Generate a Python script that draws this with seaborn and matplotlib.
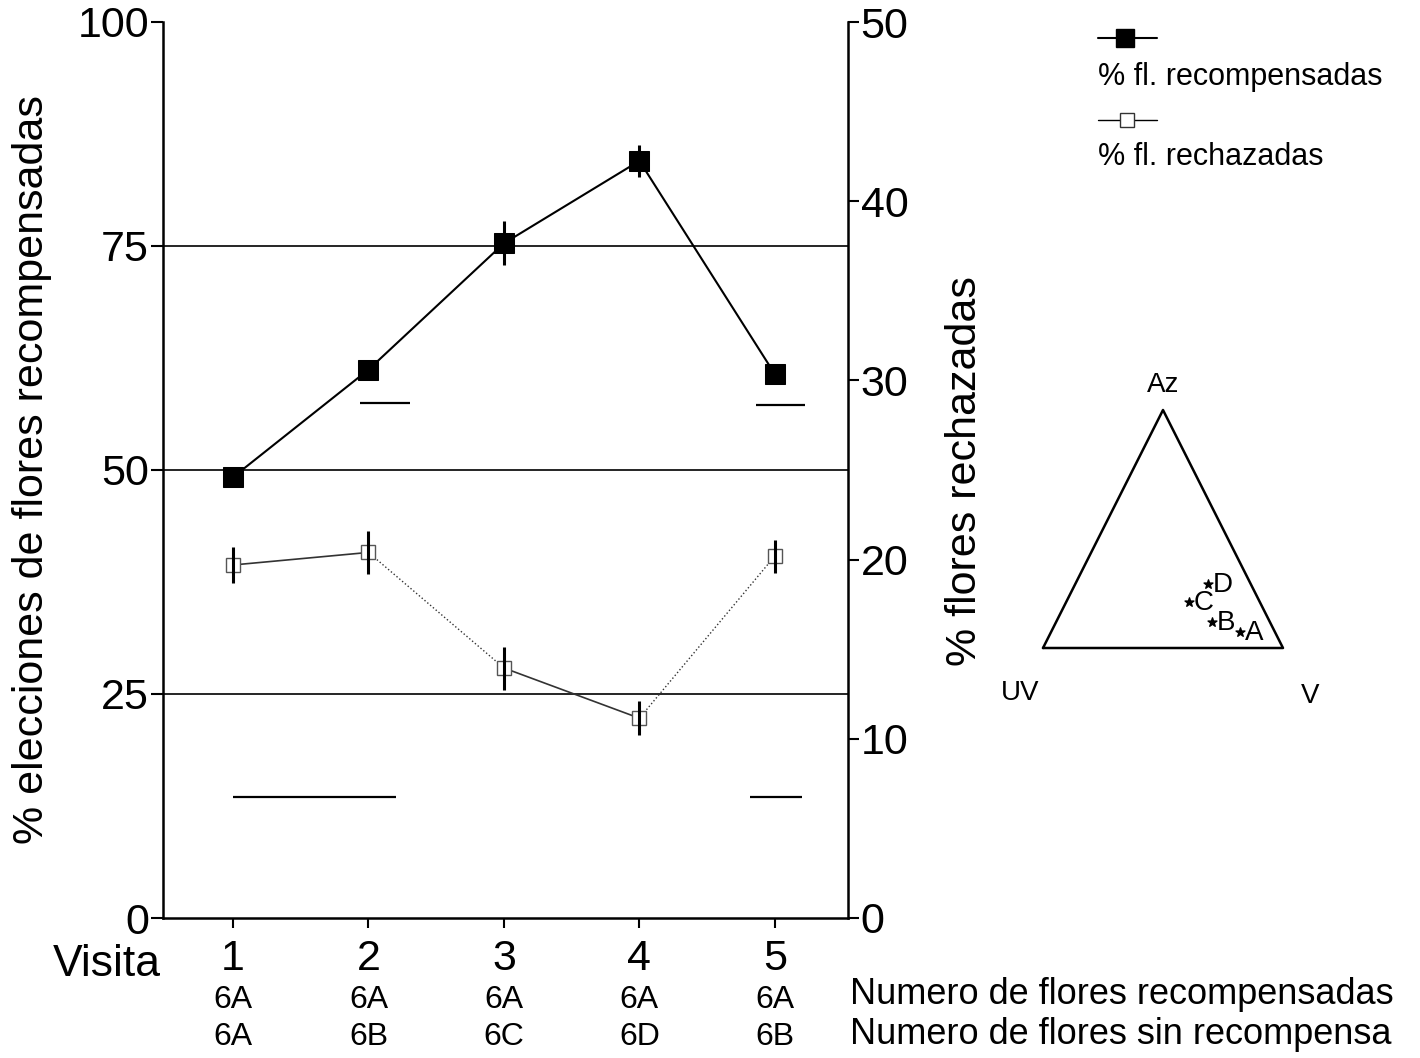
import matplotlib
matplotlib.use("Agg")
import matplotlib.pyplot as plt
import seaborn as sns
import numpy as np
import pandas as pd

# ---------------- data ----------------
visits = [1, 2, 3, 4, 5]
visit_labels = ["1", "2", "3", "4", "5"]
rewarded_pct = [49.2, 61.2, 75.3, 84.5, 60.7]        # left axis
rewarded_err = [0.8, 0.8, 2.45, 1.8, 0.8]
rejected_pct = [19.7, 20.4, 13.95, 11.15, 20.2]      # right axis
rejected_err = [1.0, 1.2, 1.2, 0.95, 0.92]
row_rewarded = ["6A", "6A", "6A", "6A", "6A"]
row_unrewarded = ["6A", "6B", "6C", "6D", "6B"]
ref_levels = [25, 50, 75]
# short horizontal segments (left-axis units): level, x start, x end
seg_level = [57.5, 57.3, 13.5, 13.5]
seg_x0 = [1.94, 4.86, 1.0, 4.82]
seg_x1 = [2.31, 5.22, 2.2, 5.2]
left_ticks = [0, 25, 50, 75, 100]
right_ticks = [0, 10, 20, 30, 40, 50]
# colour triangle points (triangle coords: base 0..1, apex height 1)
tri_names = ["D", "C", "B", "A"]
tri_x = [0.688, 0.608, 0.704, 0.821]
tri_y = [0.269, 0.193, 0.109, 0.067]

df = pd.DataFrame({"visit": visits, "rew": rewarded_pct, "rej": rejected_pct})

sns.set_theme(style="white")
plt.rcParams["font.family"] = ["Liberation Sans", "DejaVu Sans"]
plt.rcParams["text.color"] = "black"
plt.rcParams["axes.labelcolor"] = "black"

W, H = 1420, 1058
fig = plt.figure(figsize=(W / 100, H / 100), dpi=100)

def fx(px):
    return px / W

def fy(py):
    return 1 - py / H

ax = fig.add_axes([fx(163), fy(918), (848 - 163) / W, (918 - 22) / H])
ax2 = ax.twinx()

# reference lines
for lv in ref_levels:
    ax.axhline(lv, color="black", lw=1.2, zorder=1)
for lv, a, b in zip(seg_level, seg_x0, seg_x1):
    ax.hlines(lv, a, b, color="black", lw=1.6, zorder=1)

# rewarded series (filled squares)
sns.lineplot(data=df, x="visit", y="rew", ax=ax, color="black", lw=1.5,
             marker="s", markersize=14, markeredgecolor="black",
             markerfacecolor="black", zorder=4)
ax.errorbar(visits, rewarded_pct, yerr=rewarded_err, fmt="none",
            ecolor="black", elinewidth=2.2, capsize=0, zorder=5)

# rejected series (open squares), right axis
styles = ["-", ":", "-", ":"]
for i in range(len(visits) - 1):
    ax2.plot(visits[i:i + 2], rejected_pct[i:i + 2], color="#333333",
             lw=1.2 if styles[i] == "-" else 1.0, ls=styles[i], zorder=3)
ax2.plot(visits, rejected_pct, ls="none", marker="s", markersize=10,
         markerfacecolor="white", markeredgecolor="#555555",
         markeredgewidth=1.0, zorder=4)
ax2.errorbar(visits, rejected_pct, yerr=rejected_err, fmt="none",
             ecolor="black", elinewidth=2.2, capsize=0, zorder=5)

ax.set_xlim(0.483, 5.54)
ax.set_ylim(0, 100)
ax2.set_ylim(0, 50)
ax.set_yticks(left_ticks)
ax.set_yticklabels([str(t) for t in left_ticks])
ax2.set_yticks(right_ticks)
ax2.set_yticklabels([str(t) for t in right_ticks])
ax.set_xticks(visits)
ax.set_xticklabels(visit_labels)
ax.set_xlabel("")

for a in (ax, ax2):
    a.spines["top"].set_visible(False)
    for s in ("left", "right", "bottom"):
        a.spines[s].set_color("black")
        a.spines[s].set_linewidth(1.8)
    a.grid(False)
ax.spines["right"].set_visible(False)
ax2.spines["left"].set_visible(False)
ax2.spines["bottom"].set_visible(False)

ax.tick_params(axis="y", left=True, direction="out", length=9, width=1.5,
               labelsize=31, pad=1, colors="black")
ax.tick_params(axis="x", bottom=True, direction="out", length=7, width=1.5,
               labelsize=31, pad=8, colors="black")
ax2.tick_params(axis="y", right=True, direction="out", length=8, width=1.5,
                labelsize=31, pad=1, colors="black")

ax.set_ylabel("% elecciones de flores recompensadas", fontsize=31, color="black")
ax.yaxis.set_label_coords(-0.162, 0.5)
ax2.set_ylabel("% flores rechazadas", fontsize=31, color="black")
ax2.yaxis.set_label_coords(1.142, 0.499)

# bottom rows
trans = ax.get_xaxis_transform()
for v, r1, r2 in zip(visits, row_rewarded, row_unrewarded):
    ax.text(v, -(1000 - 918) / 896, r1, transform=trans, ha="center",
            va="center", fontsize=23, color="black")
    ax.text(v, -(1037 - 918) / 896, r2, transform=trans, ha="center",
            va="center", fontsize=23, color="black")
fig.text(fx(107), fy(964), "Visita", ha="center", va="center", fontsize=32)
fig.text(fx(850), fy(995), "Numero de flores recompensadas", ha="left",
         va="center", fontsize=26)
fig.text(fx(850), fy(1035), "Numero de flores sin recompensa", ha="left",
         va="center", fontsize=26)

# legend (drawn manually: handle above text)
lg = fig.add_axes([0, 0, 1, 1], facecolor="none")
lg.set_xlim(0, W)
lg.set_ylim(H, 0)
lg.axis("off")
lg.plot([1098, 1157], [38, 38], color="black", lw=1.5)
lg.plot([1125], [38], marker="s", markersize=13, color="black")
lg.text(1098, 77, "% fl. recompensadas", ha="left", va="center", fontsize=22)
lg.plot([1098, 1157], [120, 120], color="black", lw=1.0)
lg.plot([1127], [120], marker="s", markersize=10, markerfacecolor="white",
        markeredgecolor="#333333", markeredgewidth=1.0)
lg.text(1098, 157, "% fl. rechazadas", ha="left", va="center", fontsize=22)

# colour triangle
tri = fig.add_axes([fx(1043), fy(648), (1283 - 1043) / W, (648 - 410) / H],
                   facecolor="none")
tri.set_xlim(0, 1)
tri.set_ylim(0, 1)
tri.axis("off")
tri.plot([0, 0.5, 1, 0], [0, 1, 0, 0], color="black", lw=1.8, clip_on=False)
tri.scatter(tri_x, tri_y, marker="*", s=45, color="black", zorder=3,
            clip_on=False)
for n, x, y in zip(tri_names, tri_x, tri_y):
    tri.text(x + 0.02, y - 0.005, n, ha="left", va="center", fontsize=20)
tri.text(0.5, 1.105, "Az", ha="center", va="center", fontsize=20)
tri.text(-0.096, -0.19, "UV", ha="center", va="center", fontsize=20)
tri.text(1.1125, -0.2, "V", ha="center", va="center", fontsize=20)

fig.savefig("out.png", dpi=100)
